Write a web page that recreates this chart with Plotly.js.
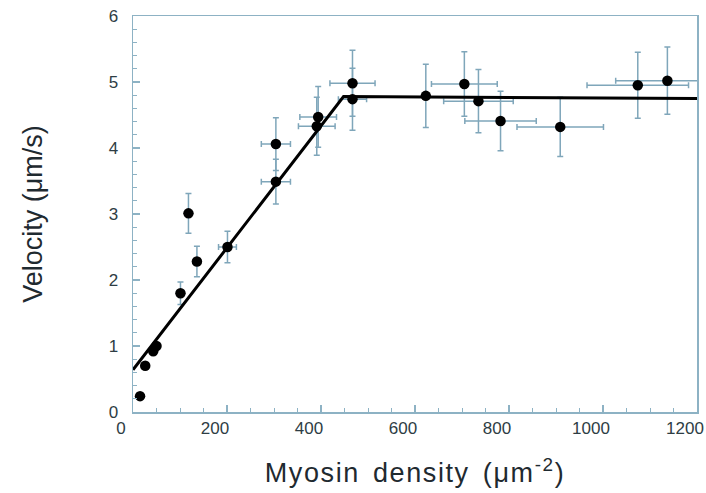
<!DOCTYPE html>
<html>
<head>
<meta charset="utf-8">
<script src="https://cdn.plot.ly/plotly-3.0.1.min.js"></script>
<style>html,body{margin:0;padding:0;background:#fff;}#chart{width:706px;height:493px;}</style>
</head>
<body>
<div id="chart"></div>
<script>
// Measured data
var density  = [15, 26, 43, 50, 101, 118, 136, 201, 304, 304, 391, 394, 467, 467, 623, 705, 735, 782, 909, 1074, 1137];
var velocity = [0.24, 0.70, 0.92, 1.00, 1.80, 3.01, 2.28, 2.50, 4.06, 3.49, 4.33, 4.47, 4.98, 4.74, 4.79, 4.97, 4.71, 4.41, 4.32, 4.95, 5.02];
var velocityErr = [0, 0, 0, 0, 0.17, 0.30, 0.23, 0.24, 0.40, 0.34, 0.44, 0.46, 0.50, 0.47, 0.48, 0.49, 0.48, 0.45, 0.45, 0.50, 0.51];
var densityErr  = [0, 0, 0, 0, 8, 0, 0, 19, 31, 31, 39, 39, 48, 30, 0, 70, 74, 76, 92, 108, 110];
// Fitted line
var fitDensity  = [0, 448, 1200];
var fitVelocity = [0.64, 4.78, 4.75];

var errColor = '#7fa6ba';
var axisColor = '#8db2c4';
var textColor = '#2e3d44';

var traces = [
  {
    x: density, y: velocity, type: 'scatter', mode: 'markers',
    marker: {color: '#000', size: 10.5},
    error_y: {type: 'data', array: velocityErr, visible: true, color: errColor, thickness: 1.5, width: 3},
    error_x: {type: 'data', array: densityErr, visible: true, color: errColor, thickness: 1.5, width: 3},
    showlegend: false, hoverinfo: 'skip'
  },
  {
    x: fitDensity, y: fitVelocity, type: 'scatter', mode: 'lines',
    line: {color: '#000', width: 3},
    showlegend: false, hoverinfo: 'skip'
  }
];

var layout = {
  width: 706, height: 493,
  margin: {l: 133, r: 9, t: 16, b: 81},
  paper_bgcolor: '#fff', plot_bgcolor: '#fff',
  font: {family: 'Liberation Sans, Arial, sans-serif', color: textColor},
  xaxis: {
    range: [0, 1200], tick0: 0, dtick: 200,
    showgrid: false, zeroline: false,
    showline: true, linecolor: axisColor, linewidth: 1.5, mirror: true,
    ticks: 'inside', ticklen: 7, tickcolor: axisColor, tickwidth: 1.5,
    minor: {dtick: 50, ticks: 'inside', ticklen: 4, tickcolor: axisColor, tickwidth: 1},
    tickfont: {size: 17, color: textColor},
    ticklabelshift: -12, ticklabeloverflow: 'allow',
    title: {text: '<span style="letter-spacing:1.6px;word-spacing:4px">Myosin density (\u03bcm<sup>-2</sup>)</span>', font: {size: 27, color: '#1f2a30'}, standoff: 26}
  },
  yaxis: {
    range: [0, 6], tick0: 0, dtick: 1,
    showgrid: false, zeroline: false,
    showline: true, linecolor: axisColor, linewidth: 1.5, mirror: true,
    ticks: 'inside', ticklen: 7, tickcolor: axisColor, tickwidth: 1.5,
    minor: {dtick: 0.2, ticks: 'inside', ticklen: 4, tickcolor: axisColor, tickwidth: 1},
    tickfont: {size: 17, color: textColor},
    ticklabelstandoff: 10,
    title: {text: 'Velocity (\u03bcm/s)', font: {size: 27, color: '#1f2a30'}, standoff: 58}
  }
};

Plotly.newPlot('chart', traces, layout, {staticPlot: true, displayModeBar: false});
</script>
</body>
</html>
